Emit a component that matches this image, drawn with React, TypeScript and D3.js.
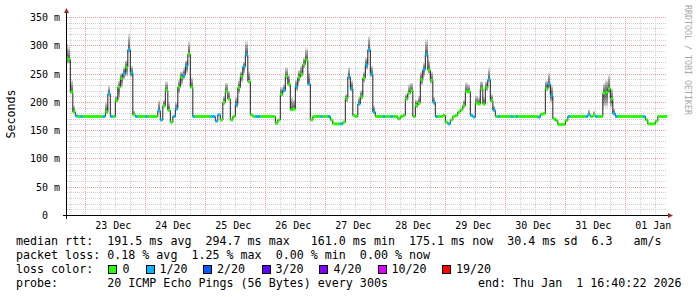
import React from 'react';
import * as d3 from 'd3';

const W = 697;
const H = 297;

// time window (UTC)
const startTime = Date.UTC(2025, 11, 22, 16, 40, 22);
const endTime = Date.UTC(2026, 0, 1, 16, 40, 22);
const firstHour = Date.UTC(2025, 11, 22, 16, 0, 0);
const HOUR = 3600 * 1000;

// hourly median RTT (ms), starting Dec 22 16:00
const rtt = [
  278, 276, 218, 183, 176, 175, 175, 175, 175, 175, 175, 175, 175, 175, 175, 175,
  183, 215, 175, 175, 203, 227, 242, 251, 262, 293, 252, 178,
  175, 175, 175, 175, 175, 175, 175, 175, 175,
  185, 169, 194, 221, 186, 165, 175, 189, 227, 244, 248, 264, 285, 227,
  175, 175, 175, 175, 175, 175, 175, 175, 175,
  167, 178, 169, 200, 219, 206, 169, 175, 196, 226, 246, 263, 284, 237, 178,
  175, 175, 175, 175, 175, 175, 175, 175, 175,
  163, 169, 214, 221, 246, 232, 187, 188, 228, 244, 250, 267, 275, 232, 169,
  175, 175, 175, 175, 175, 175, 175,
  169, 162, 162, 162, 162,
  165, 207, 245, 224, 177, 175, 197, 210, 243, 266, 293, 250, 183,
  175, 175, 175, 175, 175, 175, 175, 175, 175,
  171, 175, 177, 206, 216, 221, 175, 194, 199, 240, 258, 284, 257, 239, 200,
  175, 175, 175,
  177, 165, 162, 169, 175, 177, 183, 187, 194, 219, 219, 177, 174, 199, 197, 224, 197, 226, 240, 203, 186,
  175, 175, 175, 175, 175, 175, 175, 175, 175, 175, 175, 175, 175, 175, 175, 175, 175,
  174, 179, 180, 224, 232, 212, 171, 168,
  161, 161, 161, 168,
  175, 175, 175, 175, 175, 175, 175, 175,
  178, 175, 177, 175, 175, 175,
  216, 218, 224, 206, 180,
  175, 175, 175, 175, 175, 175, 175, 175, 175, 175, 175, 175,
  169, 162, 162, 162, 167, 175, 175, 175, 175,
];

// hours (index into rtt) where 1/20 packets were lost
const lossHours = [
  4, 6, 15, 17, 18, 23, 25, 26, 28, 32, 37, 38, 43, 44, 47, 48, 51, 58, 59, 60, 61,
  68, 71, 72, 76, 77, 87, 92, 97, 102, 105, 110, 113, 114, 117, 120, 121, 122, 123,
  127, 130, 143, 144, 147, 148, 153, 162, 163, 169, 171, 173, 178, 180, 189, 193,
  194, 201, 208, 209, 212, 219, 220, 231,
];

// smoke spread per hour: [hour index, lowest ping, highest ping]
const smoke: [number, number, number][] = [
  [0, 268, 305], [1, 268, 300], [2, 218, 240], [3, 183, 195],
  [16, 180, 200], [17, 212, 230], [20, 200, 212], [21, 205, 238], [22, 225, 252], [23, 240, 262], [24, 245, 275], [25, 288, 322], [26, 245, 265], [27, 178, 186],
  [37, 182, 205], [39, 190, 205], [40, 218, 238], [41, 185, 200], [44, 185, 200], [45, 215, 240], [46, 230, 255], [47, 240, 260], [48, 250, 275], [49, 280, 309], [50, 225, 245],
  [63, 195, 212], [64, 217, 235], [65, 205, 220], [68, 190, 210], [69, 215, 240], [70, 235, 255], [71, 250, 272], [72, 280, 309], [73, 233, 255],
  [86, 210, 228], [87, 218, 232], [88, 240, 262], [89, 228, 250], [90, 187, 210], [91, 187, 205], [92, 220, 240], [93, 235, 258], [94, 245, 265], [95, 260, 280], [96, 272, 297], [97, 230, 255],
  [112, 200, 215], [113, 240, 262], [114, 220, 240], [117, 195, 210], [118, 205, 222], [119, 235, 255], [120, 258, 280], [121, 288, 318], [122, 245, 265], [123, 180, 195],
  [136, 203, 215], [137, 214, 232], [138, 218, 235], [140, 190, 205], [141, 195, 212], [142, 230, 255], [143, 245, 270], [144, 280, 312], [145, 250, 275], [146, 233, 255], [147, 195, 210],
  [159, 190, 205], [160, 216, 236], [161, 215, 232], [164, 196, 212], [165, 195, 210], [166, 220, 238], [167, 195, 210], [168, 220, 238], [169, 236, 262], [170, 200, 215], [171, 184, 195],
  [192, 220, 240], [193, 224, 253], [194, 200, 230], [209, 176, 188], [211, 175, 185],
  [215, 190, 235], [216, 190, 240], [217, 215, 250], [218, 190, 225], [219, 178, 190],
];

const yTicks = [0, 50, 100, 150, 200, 250, 300, 350];
const yTickLabels = ['0', '50 m', '100 m', '150 m', '200 m', '250 m', '300 m', '350 m'];
const dayLabels = ['23 Dec', '24 Dec', '25 Dec', '26 Dec', '27 Dec', '28 Dec', '29 Dec', '30 Dec', '31 Dec', '01 Jan'];
const firstLabelDay = Date.UTC(2025, 11, 23);

const lossLabels = ['0', '1/20', '2/20', '3/20', '4/20', '10/20', '19/20'];
const lossColors = ['#26ff00', '#00b8ff', '#0059ff', '#5e00ff', '#7e00ff', '#dd00ff', '#ff0000'];
const lossBoxX = [108, 146, 203, 262, 319, 378, 442];
const lossTextX = [122.5, 159.5, 217, 275.5, 333.5, 391.5, 456];

const legendLines = [
  'median rtt:  191.5 ms avg  294.7 ms max   161.0 ms min  175.1 ms now  30.4 ms sd  6.3   am/s',
  'packet loss: 0.18 % avg  1.25 % max  0.00 % min  0.00 % now',
  'loss color:',
  'probe:       20 ICMP Echo Pings (56 Bytes) every 300s',
];
const endLabel = 'end: Thu Jan  1 16:40:22 2026';

const MONO = '"DejaVu Sans Mono", "Liberation Mono", monospace';
const nb = (s: string) => s.replace(/ /g, '\u00a0');

export default function App() {
  const x = d3.scaleUtc().domain([startTime, endTime]).range([67, 667]);
  const y = d3.scaleLinear().domain([0, 350]).range([215.5, 17.5]);
  const py = (v: number) => Math.round(y(v) - 0.5) + 0.5;
  const px = (t: number) => Math.round(x(t) - 0.5) + 0.5;

  const lossSet = new Set(lossHours);
  const tAt = (i: number) => firstHour + i * HOUR;

  // grid
  const hGrid: { v: number; major: boolean }[] = [];
  for (let v = 10; v <= 350; v += 10) hGrid.push({ v, major: v % 50 === 0 });
  const vGrid: { t: number; major: boolean }[] = [];
  for (let t = Date.UTC(2025, 11, 22, 18); t < endTime; t += 6 * HOUR) {
    vGrid.push({ t, major: new Date(t).getUTCHours() === 0 });
  }

  const linePts: [number, number][] = rtt.map((v, i) => [x(tAt(i)), y(v)]);
  linePts.push([x(tAt(rtt.length)), y(rtt[rtt.length - 1])]);
  const stepPath = d3.line().curve(d3.curveStepAfter)(linePts) || '';

  const smokeRects: JSX.Element[] = [];
  smoke.forEach(([i, lo, hi]) => {
    const m = rtt[i];
    const x0 = x(tAt(i));
    const x1 = x(tAt(i + 1));
    for (let k = 0; k < 10; k++) {
      const f = 1 - k / 10;
      const bLo = m - (m - lo) * f;
      const bHi = m + (hi - m) * f;
      const yt = y(Math.max(bHi, m + 0.5));
      const yb = y(Math.min(bLo, m - 0.5));
      smokeRects.push(
        <rect key={`s${i}-${k}`} x={x0} width={x1 - x0} y={yt} height={yb - yt} fill="#000" fillOpacity={0.09} />
      );
    }
  });

  return (
    <svg width={W} height={H} viewBox={`0 0 ${W} ${H}`} style={{ position: 'absolute', left: 0, top: 0, background: '#fff' }}>
      <defs>
        <clipPath id="plot">
          <rect x={67} y={17} width={600} height={199} />
        </clipPath>
      </defs>
      <rect x={0} y={0} width={W} height={H} fill="#fff" />

      {/* grid */}
      <g shapeRendering="crispEdges">
        {hGrid.filter(g => !g.major).map(g => (
          <line key={`hg${g.v}`} x1={67} x2={667} y1={py(g.v)} y2={py(g.v)} stroke="#cfcfcf" strokeDasharray="1,1" />
        ))}
        {vGrid.filter(g => !g.major).map(g => (
          <line key={`vg${g.t}`} x1={px(g.t)} x2={px(g.t)} y1={17} y2={215} stroke="#cfcfcf" strokeDasharray="1,1" />
        ))}
        {hGrid.filter(g => g.major).map(g => (
          <line key={`hm${g.v}`} x1={67} x2={667} y1={py(g.v)} y2={py(g.v)} stroke="#eaa0a0" strokeDasharray="1,1" />
        ))}
        {vGrid.filter(g => g.major).map(g => (
          <line key={`vm${g.t}`} x1={px(g.t)} x2={px(g.t)} y1={17} y2={215} stroke="#eaa0a0" strokeDasharray="1,1" />
        ))}
      </g>

      {/* smoke and median */}
      <g clipPath="url(#plot)">
        <g shapeRendering="crispEdges">{smokeRects}</g>
        <path d={stepPath} fill="none" stroke="#202020" strokeWidth={1} />
        {rtt.map((v, i) => (
          <line
            key={`m${i}`}
            x1={x(tAt(i))}
            x2={x(tAt(i + 1))}
            y1={y(v)}
            y2={y(v)}
            stroke={lossSet.has(i) ? lossColors[1] : lossColors[0]}
            strokeWidth={3}
          />
        ))}
      </g>

      {/* axes */}
      <g shapeRendering="crispEdges">
        <line x1={66.5} x2={66.5} y1={12} y2={219} stroke="#000" />
        <line x1={63} x2={670} y1={215.5} y2={215.5} stroke="#000" />
      </g>
      <path d="M64,13 L69,13 L66.5,8 Z" fill="#a02828" />
      <path d="M668,213 L668,218 L673,215.5 Z" fill="#a02828" />

      {/* y labels */}
      {yTicks.map((v, i) => (
        <text
          key={`yl${v}`}
          x={yTickLabels[i].includes(' ') ? 60 : 60 - 2 * 6.02}
          y={py(v) + 3.5}
          textAnchor="end"
          fontFamily={MONO}
          fontSize={10}
          fill="#000"
        >
          {nb(yTickLabels[i])}
        </text>
      ))}

      {/* x labels */}
      {dayLabels.map((lab, i) => (
        <text
          key={`xl${lab}`}
          x={x(firstLabelDay + i * 24 * HOUR + 12 * HOUR) - 2}
          y={228.5}
          textAnchor="middle"
          fontFamily={MONO}
          fontSize={10}
          fill="#000"
        >
          {nb(lab)}
        </text>
      ))}

      {/* axis title */}
      <text transform="translate(15,114) rotate(-90)" textAnchor="middle" fontFamily={MONO} fontSize={11.66} fill="#000">
        Seconds
      </text>

      {/* watermark */}
      <text transform="translate(685,5) rotate(90)" fontFamily={MONO} fontSize={8.3} fill="#a8a8a8">
        {nb('RRDTOOL / TOBI OETIKER')}
      </text>

      {/* legend */}
      {legendLines.map((s, i) => (
        <text key={`lg${i}`} x={16} y={245 + i * 14} fontFamily={MONO} fontSize={11.66} fill="#000">
          {nb(s)}
        </text>
      ))}
      {lossLabels.map((lab, i) => (
        <g key={`lb${i}`}>
          <rect x={lossBoxX[i] + 0.5} y={265.5} width={8} height={8} fill={lossColors[i]} stroke="#000" shapeRendering="crispEdges" />
          <text x={lossTextX[i]} y={273} fontFamily={MONO} fontSize={11.66} fill="#000">
            {lab}
          </text>
        </g>
      ))}
      <text x={478} y={287} fontFamily={MONO} fontSize={11.66} fill="#000">
        {nb(endLabel)}
      </text>
    </svg>
  );
}
